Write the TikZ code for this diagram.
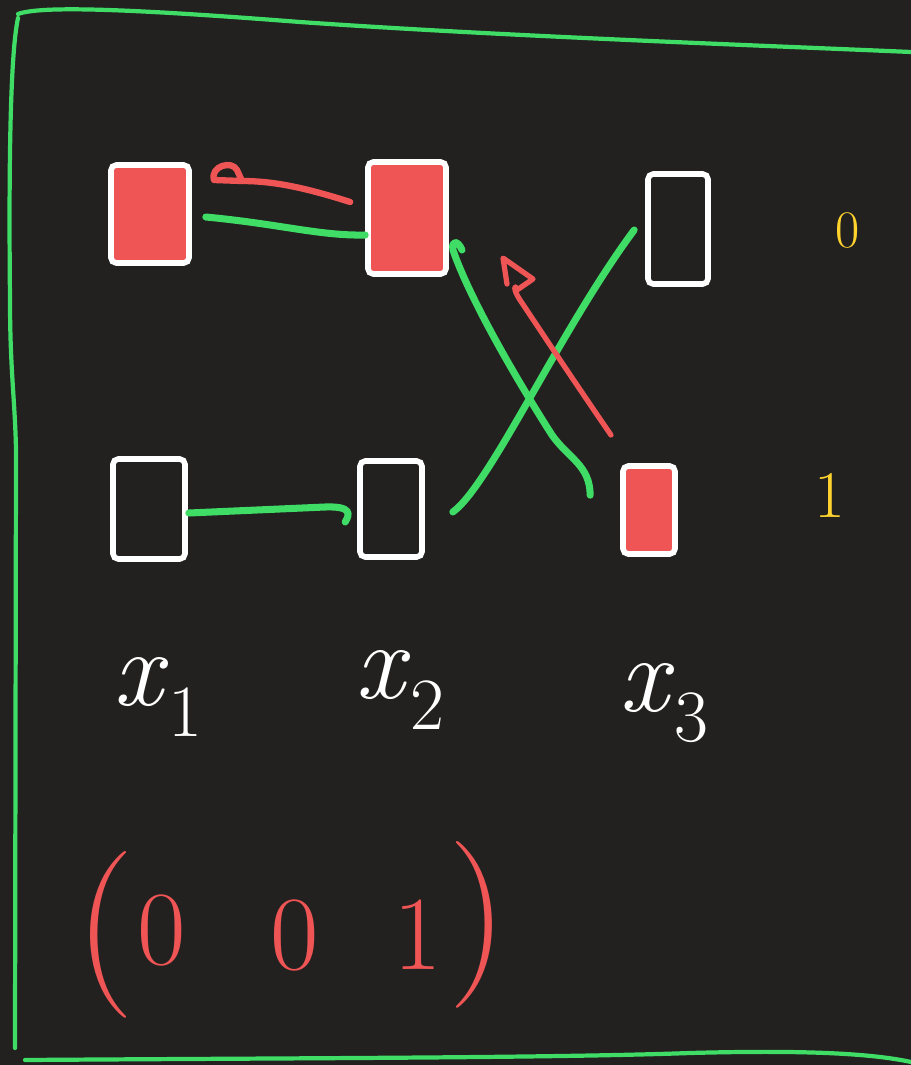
\documentclass[tikz,border=0pt]{standalone}
\usetikzlibrary{calc}
\definecolor{bg}{HTML}{222120}
\definecolor{hgreen}{HTML}{3FDC66}
\definecolor{hred}{HTML}{EF5555}
\definecolor{hyellow}{HTML}{FFD22E}
\newcommand{\xsub}[1]{\textit{x}\raisebox{-0.28em}{\fontsize{42}{46}\selectfont #1}}
\tikzset{
  box/.style={draw=white, line width=3.2pt, rounded corners=3pt, inner sep=0pt, line cap=round},
  redbox/.style={box, fill=hred},
  gline/.style={draw=hgreen, line width=4pt, line cap=round, line join=round},
  rline/.style={draw=hred, line width=3pt, line cap=round, line join=round},
  frame/.style={draw=hgreen, line width=2.4pt, line cap=round},
  lbl/.style={text=white, font=\fontsize{62}{68}\selectfont, inner sep=0pt},
  ylbl/.style={text=hyellow, font=\fontsize{30}{34}\selectfont, inner sep=0pt},
  rlbl/.style={text=hred, inner sep=0pt},
}
\begin{document}
\begin{tikzpicture}[x=0.02cm, y=-0.02cm]
\fill[bg] (0,0) rectangle (911,1065);
\useasboundingbox (0,0) rectangle (911,1065);

% frame
\draw[frame] (18,14) .. controls (40,6) and (120,8) .. (300,22) .. controls (500,36) and (750,45) .. (911,52);
\draw[frame] (18,18) .. controls (9,60) and (9,200) .. (10,300) .. controls (10,370) and (15,400) .. (16,450) -- (15,1048);
\draw[frame] (25,1060) .. controls (300,1058) and (550,1058) .. (690,1053) .. controls (800,1050) and (870,1053) .. (911,1062);

% boxes
\node[redbox, minimum width=78*0.02cm, minimum height=98*0.02cm] (A) at (150,214) {};
\node[redbox, minimum width=78*0.02cm, minimum height=112*0.02cm] (B) at (407,218) {};
\node[box, minimum width=60*0.02cm, minimum height=110*0.02cm] (C) at (678,229) {};
\node[box, minimum width=72*0.02cm, minimum height=100*0.02cm] (D) at (149,509) {};
\node[box, minimum width=62*0.02cm, minimum height=96*0.02cm] (E) at (391,509) {};
\node[redbox, minimum width=52*0.02cm, minimum height=88*0.02cm] (F) at (649,510) {};

% free ends
\coordinate (rAe) at (214,180);
\coordinate (rBs) at ($(B.west)+(-15,-16)$);
\coordinate (rFs) at (611,435);
\coordinate (rtip) at (503,258);

% red arrow B -> A (looped end)
\draw[rline, line width=3.6pt] (rBs) .. controls (300,186) and (270,181) .. (242,181) -- (rAe)
  .. controls (210,166) and (232,160) .. (237,170) -- (242,181);

% green A -- B
\draw[gline] ($(A.east)+(14,3)$) .. controls (280,224) and (320,236) .. ($(B.west)+(0,17)$);

% green D -- E
\draw[gline] ($(D.east)+(1,4)$) -- (325,507) .. controls (352,506) and (350,514) .. ($(E.west)+(-12,13)$);

% green E -- C
\draw[gline] ($(E.east)+(28,3)$) .. controls (490,485) and (560,330) .. ($(C.west)+(-11,1)$);

% green F -- B (hooked)
\draw[gline] ($(F.north west)+(-30,32)$) .. controls (590,465) and (568,458) .. (552,435)
  .. controls (520,385) and (470,300) .. (453,250) .. controls (451,240) and (458,240) .. (462,250);

% red arrow F -> up with open head
\draw[rline] (rFs) .. controls (580,390) and (540,330) .. (520,300) .. controls (512,288) and (515,283) .. (517,290)
  -- (533,279) -- (rtip) -- (507,284);

% labels
\node[lbl] (l1) at (158,697) {\xsub{1}};
\node[lbl] (l2) at (400,690) {\xsub{2}};
\node[lbl] (l3) at (664,703) {\xsub{3}};
\node[ylbl] (y0) at (848,230) {0};
\node[ylbl, font=\fontsize{38}{42}\selectfont] (y1) at (830,495) {1};

% vector (0 0 1)
\node[rlbl, font=\fontsize{95}{100}\selectfont] (lp) at (105,935) {(};
\node[rlbl, font=\fontsize{60}{64}\selectfont] (d1) at (162,930) {0};
\node[rlbl, font=\fontsize{60}{64}\selectfont] (d2) at (295,935) {0};
\node[rlbl, font=\fontsize{60}{64}\selectfont] (d3) at (418,935) {1};
\node[rlbl, font=\fontsize{95}{100}\selectfont] (rp) at (478,925) {)};
\end{tikzpicture}
\end{document}
